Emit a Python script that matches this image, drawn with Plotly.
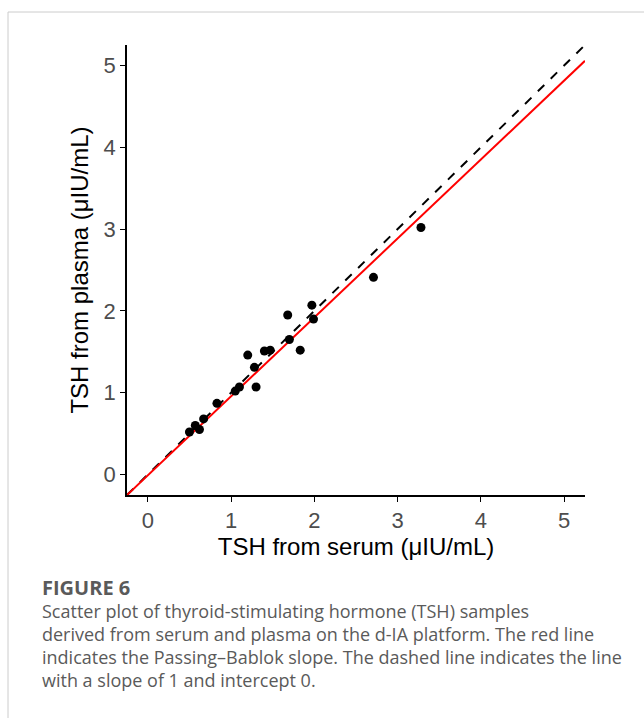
import plotly.graph_objects as go

serum = [0.50, 0.57, 0.62, 0.67, 0.83, 1.05, 1.10, 1.30, 1.20, 1.28, 1.40, 1.47,
         1.68, 1.70, 1.83, 1.97, 1.99, 2.71, 3.28]
plasma = [0.52, 0.60, 0.55, 0.68, 0.87, 1.02, 1.07, 1.07, 1.46, 1.31, 1.51, 1.52,
          1.95, 1.65, 1.52, 2.07, 1.90, 2.41, 3.02]
pb_slope = 0.965
pb_intercept = -0.009
line_x = [-0.25, 5.25]
ticks = [0, 1, 2, 3, 4, 5]

W, H = 644, 718
L, R, T, B = 127, 59, 45, 223
pw, ph = W - L - R, H - T - B

def px(x):
    return (x - L) / pw

def py(y):
    return (H - B - y) / ph

fig = go.Figure()
fig.add_trace(go.Scatter(x=line_x, y=line_x, mode="lines",
                         line=dict(color="black", width=2, dash="dash"), hoverinfo="skip"))
fig.add_trace(go.Scatter(x=line_x, y=[pb_intercept + pb_slope * v for v in line_x], mode="lines",
                         line=dict(color="#ff0000", width=2), hoverinfo="skip"))
fig.add_trace(go.Scatter(x=serum, y=plasma, mode="markers",
                         marker=dict(color="black", size=9)))

tickfont = dict(family="Arial", size=22, color="#4d4d4d")
axis_common = dict(range=[-0.25, 5.25], tickmode="array", tickvals=ticks,
                   ticktext=[str(t) for t in ticks], showgrid=False, zeroline=False,
                   showline=True, linecolor="black", linewidth=1.5, ticks="outside",
                   ticklen=5, tickcolor="black", tickwidth=1.2, tickfont=tickfont)

fig.update_layout(
    xaxis=dict(**axis_common,
               title=dict(text="TSH from serum (μIU/mL)", standoff=4,
                          font=dict(family="Arial", size=24, color="black"))),
    yaxis=dict(**axis_common,
               title=dict(text="TSH from plasma (μIU/mL)", standoff=8,
                          font=dict(family="Arial", size=24, color="black"))),
)

shapes = [
    dict(type="line", xref="paper", yref="paper", x0=px(8), x1=px(W), y0=py(12), y1=py(12),
         line=dict(color="#cccccc", width=1)),
    dict(type="line", xref="paper", yref="paper", x0=px(8), x1=px(8), y0=py(12), y1=py(H),
         line=dict(color="#cccccc", width=1)),
]

caption_lines = [
    "Scatter plot of thyroid-stimulating hormone (TSH) samples",
    "derived from serum and plasma on the d-IA platform. The red line",
    "indicates the Passing–Bablok slope. The dashed line indicates the line",
    "with a slope of 1 and intercept 0.",
]
annotations = [dict(text="<b>FIGURE 6</b>", xref="paper", yref="paper", x=px(40), y=py(587),
                    xanchor="left", yanchor="middle", showarrow=False,
                    font=dict(family="Open Sans", size=20, color="#5a5a5a"))]
for i, t in enumerate(caption_lines):
    annotations.append(dict(text=t, xref="paper", yref="paper", x=px(40), y=py(611 + 23 * i),
                            xanchor="left", yanchor="middle", showarrow=False,
                            font=dict(family="Open Sans", size=18, color="#5a5a5a")))

fig.update_layout(width=W, height=H, margin=dict(l=L, r=R, t=T, b=B),
                  plot_bgcolor="white", paper_bgcolor="white", showlegend=False,
                  shapes=shapes, annotations=annotations)

fig.write_html("out.html")
